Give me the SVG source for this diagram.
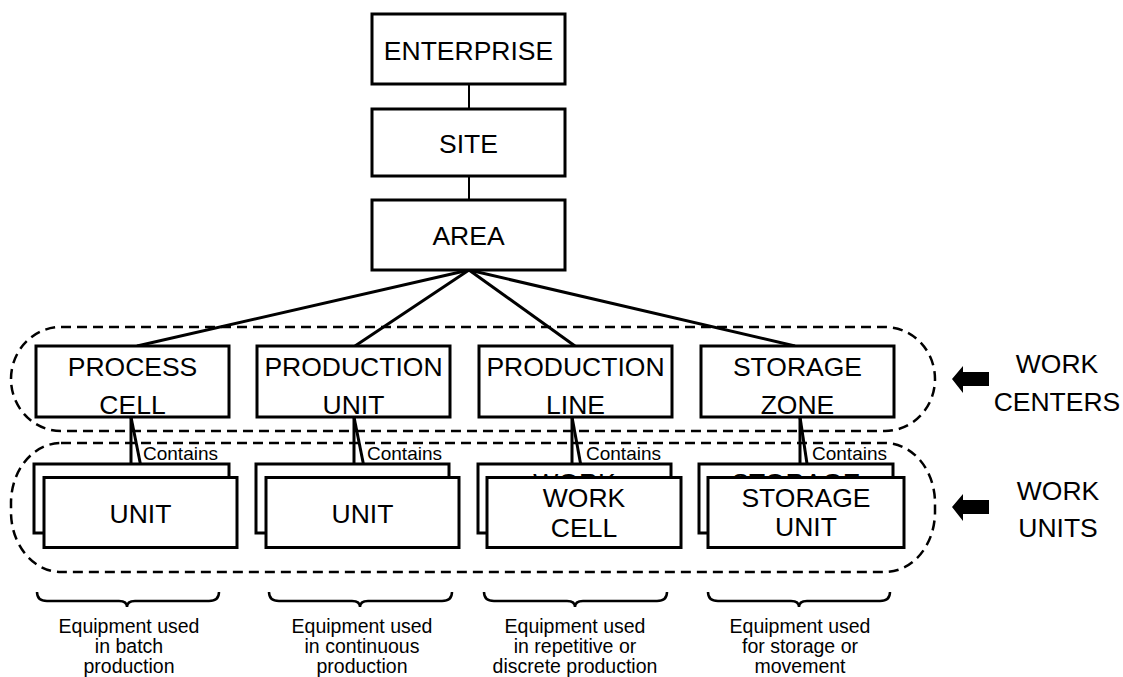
<svg xmlns="http://www.w3.org/2000/svg" width="1123" height="677" viewBox="0 0 1123 677">
<style>
.box{fill:#fff;stroke:#000;stroke-width:3}
.t{font-family:"Liberation Sans",Arial,sans-serif;font-size:26.5px;text-anchor:middle;fill:#000}
.c{font-family:"Liberation Sans",Arial,sans-serif;font-size:19px;fill:#000}
.b{font-family:"Liberation Sans",Arial,sans-serif;font-size:19.5px;text-anchor:middle;fill:#000}
.ln{stroke:#000;stroke-width:3;fill:none}
.thin{stroke:#000;stroke-width:2;fill:none}
.dash{fill:none;stroke:#000;stroke-width:2.5;stroke-dasharray:10 6}
.brace{fill:none;stroke:#000;stroke-width:2.5}
</style>
<rect width="1123" height="677" fill="#fff"/>

<g id="groups">
<rect class="dash" x="11" y="327" width="924" height="104" rx="50" ry="52"/>
<rect class="dash" x="11" y="443" width="924" height="129" rx="50" ry="60"/>
</g>

<g id="connectors">
<line class="thin" x1="469" y1="84" x2="469" y2="109"/>
<line class="thin" x1="469" y1="176" x2="469" y2="200"/>
<line class="ln" x1="469" y1="270" x2="137" y2="346"/>
<line class="ln" x1="469" y1="270" x2="355" y2="346"/>
<line class="ln" x1="469" y1="270" x2="575" y2="346"/>
<line class="ln" x1="469" y1="270" x2="795" y2="346"/>
</g>

<g id="enterprise"><rect class="box" x="372" y="14" width="193" height="70"/><text class="t" x="468.5" y="60">ENTERPRISE</text></g>
<g id="site"><rect class="box" x="372" y="109" width="193" height="67"/><text class="t" x="468.5" y="153">SITE</text></g>
<g id="area"><rect class="box" x="372" y="200" width="193" height="70"/><text class="t" x="468.5" y="245">AREA</text></g>

<g id="process-cell"><rect class="box" x="36" y="346" width="193" height="71"/><text class="t" x="132.5" y="376">PROCESS</text><text class="t" x="132.5" y="414">CELL</text></g>
<g id="production-unit"><rect class="box" x="257" y="346" width="193" height="71"/><text class="t" x="353.5" y="376">PRODUCTION</text><text class="t" x="353.5" y="414">UNIT</text></g>
<g id="production-line"><rect class="box" x="479" y="346" width="193" height="71"/><text class="t" x="575.5" y="376">PRODUCTION</text><text class="t" x="575.5" y="414">LINE</text></g>
<g id="storage-zone"><rect class="box" x="701" y="346" width="193" height="71"/><text class="t" x="797.5" y="376">STORAGE</text><text class="t" x="797.5" y="414">ZONE</text></g>

<g id="contains-links">
<line class="ln" x1="131" y1="417" x2="131" y2="464"/><line class="ln" x1="131" y1="417" x2="143" y2="477"/>
<line class="ln" x1="354" y1="417" x2="354" y2="464"/><line class="ln" x1="354" y1="417" x2="366" y2="477"/>
<line class="ln" x1="572" y1="417" x2="572" y2="464"/><line class="ln" x1="572" y1="417" x2="583" y2="477"/>
<line class="ln" x1="800" y1="417" x2="800" y2="464"/><line class="ln" x1="800" y1="417" x2="809" y2="477"/>
<text class="c" x="143" y="460">Contains</text>
<text class="c" x="367" y="460">Contains</text>
<text class="c" x="586" y="460">Contains</text>
<text class="c" x="812" y="460">Contains</text>
</g>

<g id="unit-1">
<rect class="box" x="34" y="464" width="195" height="69"/>
<rect class="box" x="44" y="477.5" width="193" height="70"/>
<text class="t" x="140.5" y="523">UNIT</text>
</g>
<g id="unit-2">
<rect class="box" x="256" y="464" width="193" height="69"/>
<rect class="box" x="266" y="477.5" width="193" height="70"/>
<text class="t" x="362.5" y="523">UNIT</text>
</g>
<g id="work-cell">
<rect class="box" x="478" y="464" width="193" height="69"/>
<text class="t" x="574.5" y="492">WORK</text>
<rect class="box" x="487" y="477.5" width="194" height="70"/>
<text class="t" x="584" y="507">WORK</text>
<text class="t" x="584" y="537">CELL</text>
</g>
<g id="storage-unit">
<rect class="box" x="699" y="464" width="194" height="69"/>
<text class="t" x="796" y="492">STORAGE</text>
<rect class="box" x="708" y="477.5" width="196" height="70"/>
<text class="t" x="806" y="507">STORAGE</text>
<text class="t" x="806" y="536">UNIT</text>
</g>

<g id="work-centers-label">
<polygon points="952,379 963,366 963,372 989,372 989,386 963,386 963,393" fill="#000"/>
<text class="t" x="1057" y="373">WORK</text>
<text class="t" x="1057" y="411">CENTERS</text>
</g>
<g id="work-units-label">
<polygon points="952,507 963,494 963,500 989,500 989,514 963,514 963,521" fill="#000"/>
<text class="t" x="1058" y="500">WORK</text>
<text class="t" x="1058" y="537">UNITS</text>
</g>

<g id="brace-1">
<path class="brace" d="M37,592 Q37,601 47,601 L119,601 Q127,601 127,607 Q127,601 135,601 L209,601 Q219,601 219,592"/>
<text class="b" x="129" y="633">Equipment used</text>
<text class="b" x="129" y="653">in batch</text>
<text class="b" x="129" y="673">production</text>
</g>
<g id="brace-2">
<path class="brace" d="M269,592 Q269,601 279,601 L352,601 Q360,601 360,607 Q360,601 368,601 L442,601 Q452,601 452,592"/>
<text class="b" x="362" y="633">Equipment used</text>
<text class="b" x="362" y="653">in continuous</text>
<text class="b" x="362" y="673">production</text>
</g>
<g id="brace-3">
<path class="brace" d="M484,592 Q484,601 494,601 L567,601 Q575,601 575,607 Q575,601 583,601 L657,601 Q667,601 667,592"/>
<text class="b" x="575" y="633">Equipment used</text>
<text class="b" x="575" y="653">in repetitive or</text>
<text class="b" x="575" y="673">discrete production</text>
</g>
<g id="brace-4">
<path class="brace" d="M708,592 Q708,601 718,601 L791,601 Q799,601 799,607 Q799,601 807,601 L880,601 Q890,601 890,592"/>
<text class="b" x="800" y="633">Equipment used</text>
<text class="b" x="800" y="653">for storage or</text>
<text class="b" x="800" y="673">movement</text>
</g>
</svg>
